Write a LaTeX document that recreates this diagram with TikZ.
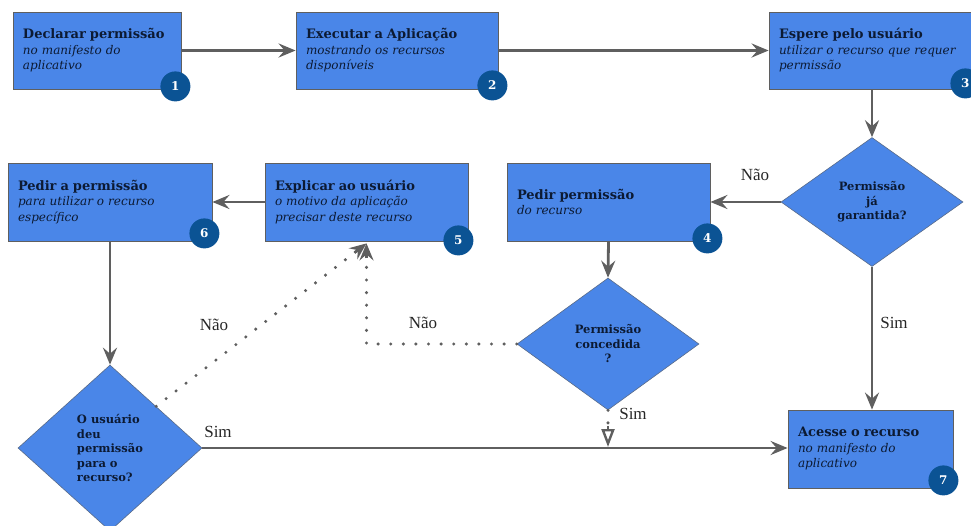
\documentclass[tikz,border=0pt]{standalone}
\usepackage{fontspec}
\setmainfont{DejaVu Serif}
\newfontfamily\labelfont{Liberation Serif}
\usetikzlibrary{arrows.meta,shapes.geometric,calc}
\definecolor{boxblue}{HTML}{4A86E8}
\definecolor{edgegray}{HTML}{5F5F5F}
\definecolor{linegray}{HTML}{5F5F5F}
\definecolor{numblue}{HTML}{0B5394}
\definecolor{txtnavy}{HTML}{0C1A33}
\newcommand{\ttl}[1]{{\fontsize{13}{15.5}\selectfont\bfseries #1}}
\tikzset{
  stepbox/.style={draw=edgegray, line width=0.8pt, fill=boxblue, rectangle, minimum height=77pt, inner xsep=10pt, inner ysep=0pt, align=left, text=txtnavy, font=\fontsize{12}{15.5}\selectfont},
  decision/.style={draw=edgegray!70!boxblue, line width=0.6pt, fill=boxblue, diamond, inner sep=0pt, text=txtnavy, font=\fontsize{11.5}{14.5}\selectfont\bfseries},
  badge/.style={circle, fill=numblue, minimum size=30pt, inner sep=0pt, text=white, font=\fontsize{12}{12}\selectfont\bfseries},
  tip/.style={-{Stealth[length=17pt,width=14pt,inset=6pt]}},
  flow/.style={draw=linegray, line width=2.8pt, tip},
  dotflow/.style={draw=linegray, line width=3.4pt, line cap=round, dash pattern=on 0pt off 12.6pt},
  edgelabel/.style={font=\labelfont\fontsize{17}{17}\selectfont, text=black!85}
}
\begin{document}
\begin{tikzpicture}[x=1pt,y=-1pt]
\useasboundingbox (0,0) rectangle (971,526);
% boxes
\node[stepbox, text width=148pt] (b1) at (97,50.5) {\ttl{Declarar permissão}\\\textit{no manifesto do}\\\textit{aplicativo}};
\node[stepbox, text width=182pt] (b2) at (397,50.5) {\ttl{Executar a Aplicação}\\\textit{mostrando os recursos}\\\textit{disponíveis}};
\node[stepbox, text width=184pt] (b3) at (871,50.5) {\ttl{Espere pelo usuário}\\\textit{utilizar o recurso que requer}\\\textit{permissão}};
\node[stepbox, text width=183pt, minimum height=78pt] (b4) at (608.5,202) {\ttl{Pedir permissão}\\\textit{do recurso}};
\node[stepbox, text width=183pt, minimum height=78pt] (b5) at (366.5,202) {\ttl{Explicar ao usuário}\\\textit{o motivo da aplicação}\\\textit{precisar deste recurso}};
\node[stepbox, text width=184pt, minimum height=78pt] (b6) at (110,202) {\ttl{Pedir a permissão}\\\textit{para utilizar o recurso}\\\textit{específico}};
\node[stepbox, text width=145pt, minimum height=78pt] (b7) at (870.5,449) {\ttl{Acesse o recurso}\\\textit{no manifesto do}\\\textit{aplicativo}};
% decisions
\node[decision, minimum width=182pt, minimum height=129pt, align=center] (d1) at (872,202) {Permissão\\já\\garantida?};
\node[decision, minimum width=182pt, minimum height=132pt, align=center] (d2) at (608,344) {Permissão\\concedida\\?};
\node[decision, minimum width=184pt, minimum height=166pt, align=left] (d3) at (110,448) {O usuário\\deu\\permissão\\para o\\recurso?};
% badges
\node[badge] (n1) at ([shift={(-6,-3)}]b1.south east) {1};
\node[badge] (n2) at ([shift={(-6,-4)}]b2.south east) {2};
\node[badge] (n3) at ([shift={(-8,-6)}]b3.south east) {3};
\node[badge] (n4) at ([shift={(-3,-3)}]b4.south east) {4};
\node[badge] (n5) at ([shift={(-10,-1)}]b5.south east) {5};
\node[badge] (n6) at ([shift={(-8,-8)}]b6.south east) {6};
\node[badge] (n7) at ([shift={(-10,-8)}]b7.south east) {7};
% connectors
\draw[flow] (b1) -- (b2);
\draw[flow] (b2.east) -- (b3.west);
\draw[flow] (d1.north |- b3.south) -- (d1.north);
\draw[flow] (d1.west) -- (b4.east);
\draw[flow] (d1.south) -- (d1.south |- b7.north);
\draw[flow] (b4.south) -- (d2.north);
\draw[flow] (b5.west) -- (b6.east);
\draw[flow] (d3.north |- b6.south) -- (d3.north);
\coordinate (j) at (d2.south |- d3.east);
\draw[flow] (d3.east) -- (d3.east -| b7.west);
% dotted
\coordinate (e5) at ([yshift=-2pt]b5.south);
\coordinate (s3) at ($(d3.north)!0.5!(d3.east)$);
\draw[dotflow] (s3) -- ($(e5)!14pt!(s3)$);
\draw[draw=linegray, line width=2.6pt, tip] ($(e5)!15pt!(s3)$) -- (e5);
\draw[dotflow] (d2.west) -| ([yshift=-14pt]e5);
\draw[draw=linegray, line width=2.6pt, tip] ([yshift=-15pt]e5) -- (e5);
\draw[dotflow] (d2.south) -- ([yshift=25pt]j);
\draw[draw=linegray, line width=2.4pt, -{Triangle[open,length=18pt,width=13pt,fill=white]}] ([yshift=22pt]j) -- ([yshift=1pt]j);
% labels
\node[edgelabel] (l1) at (755,175) {Não};
\node[edgelabel] (l2) at (894,323) {Sim};
\node[edgelabel] (l3) at (214,325) {Não};
\node[edgelabel] (l4) at (423,323) {Não};
\node[edgelabel] (l5) at (633,414) {Sim};
\node[edgelabel] (l6) at (218,432) {Sim};
\end{tikzpicture}
\end{document}
